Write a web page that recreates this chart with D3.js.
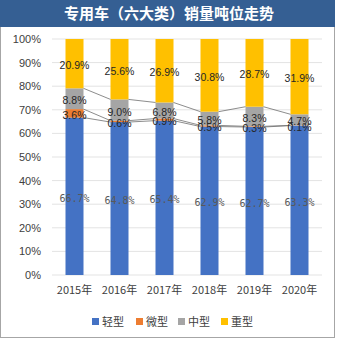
<!DOCTYPE html>
<html><head><meta charset="utf-8">
<script src="https://cdn.jsdelivr.net/npm/d3@7"></script>
<style>body{margin:0;background:#fff}svg{display:block}</style>
</head><body>
<script>
const years = ["2015年","2016年","2017年","2018年","2019年","2020年"];
const seriesNames = ["轻型","微型","中型","重型"];
const light  = [66.7, 64.8, 65.4, 62.9, 62.7, 63.3];
const micro  = [3.6, 0.6, 0.9, 0.5, 0.3, 0.1];
const medium = [8.8, 9.0, 6.8, 5.8, 8.3, 4.7];
const heavy  = [20.9, 25.6, 26.9, 30.8, 28.7, 31.9];
const yTicks = [0,10,20,30,40,50,60,70,80,90,100];
const colors = ["#4472C4","#ED7D31","#A5A5A5","#FFC000"];

const W=340,H=343;
const svg=d3.select("body").append("svg").attr("width",W).attr("height",H);
svg.append("rect").attr("x",0.5).attr("y",0.5).attr("width",334).attr("height",337)
  .attr("fill","#fff").attr("stroke","#a6a6a6");
svg.append("rect").attr("x",0).attr("y",0).attr("width",335).attr("height",27).attr("fill","#355f93");
svg.append("text").attr("x",169).attr("y",19).attr("text-anchor","middle")
  .attr("font-family","Noto Sans CJK SC").attr("font-weight","bold").attr("font-size",15)
  .attr("fill","#fff").text("专用车（六大类）销量吨位走势");

const x=d3.scaleBand().domain(years).range([52,322]).paddingInner(0.6).paddingOuter(0.3);
const y=d3.scaleLinear().domain([0,100]).range([275,39]);

const g=svg.append("g");
g.selectAll("line.grid").data(yTicks).join("line").attr("class","grid")
  .attr("x1",52).attr("x2",322).attr("y1",d=>y(d)).attr("y2",d=>y(d))
  .attr("stroke","#e3e3e3").attr("stroke-width",1);

const yAxis=d3.axisLeft(y).tickValues(yTicks).tickFormat(d=>d+"%").tickSize(0).tickPadding(0);
const ya=svg.append("g").attr("transform","translate(41,0)").call(yAxis);
ya.select(".domain").remove();
ya.selectAll("text").attr("font-family","Liberation Sans, Arial").attr("font-size",11).attr("fill","#404040");

const table=years.map((yr,i)=>({year:yr,"轻型":light[i],"微型":micro[i],"中型":medium[i],"重型":heavy[i]}));
const stack=d3.stack().keys(seriesNames)(table);

stack.forEach((s,si)=>{
  g.selectAll(null).data(s).join("rect")
    .attr("x",d=>x(d.data.year)).attr("width",x.bandwidth())
    .attr("y",d=>y(d[1])).attr("height",d=>y(d[0])-y(d[1]))
    .attr("fill",colors[si]);
});
// series lines
stack.slice(0,3).forEach(s=>{
  for(let i=0;i<s.length-1;i++){
    g.append("line")
      .attr("x1",x(years[i])+x.bandwidth()).attr("y1",y(s[i][1]))
      .attr("x2",x(years[i+1])).attr("y2",y(s[i+1][1]))
      .attr("stroke","#6f6f6f").attr("stroke-width",0.8);
  }
});
// labels
stack.forEach((s,si)=>{
  g.selectAll(null).data(s).join("text")
    .attr("x",d=>x(d.data.year)+x.bandwidth()/2)
    .attr("y",d=>y((d[0]+d[1])/2)+5.5)
    .attr("text-anchor","middle")
    .attr("font-family",si===0?"DejaVu Sans Mono":"Liberation Sans, Arial")
    .attr("font-size",si===0?10:10.5)
    .attr("fill",si===0?"#595959":"#262626")
    .text(d=>(d[1]-d[0]).toFixed(1)+"%");
});

const xAxis=d3.axisBottom(x).tickSize(0).tickPadding(0);
const xa=svg.append("g").attr("transform","translate(0,286)").call(xAxis);
xa.select(".domain").remove();
xa.selectAll("text").attr("font-family","Noto Sans CJK SC").attr("font-size",11).attr("fill","#404040");

const legX=[92,136,178,221];
const leg=svg.append("g");
seriesNames.forEach((n,i)=>{
  leg.append("rect").attr("x",legX[i]).attr("y",318).attr("width",7).attr("height",7).attr("fill",colors[i]);
  leg.append("text").attr("x",legX[i]+10).attr("y",325.5).attr("font-family","Noto Sans CJK SC")
    .attr("font-size",11).attr("fill","#404040").text(n);
});
</script>
</body></html>
